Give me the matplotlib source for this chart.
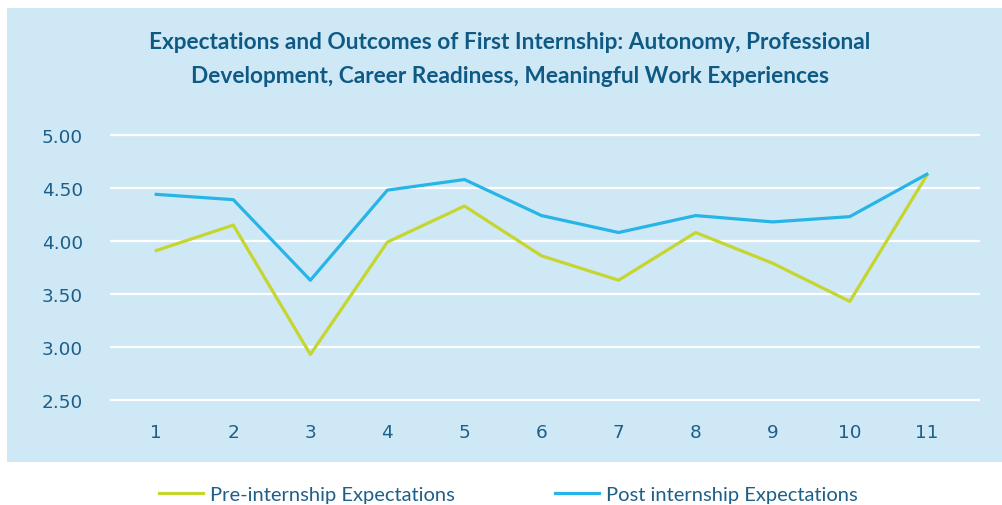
import matplotlib
matplotlib.use("Agg")
import matplotlib.pyplot as plt
from matplotlib.patches import Rectangle

categories = [1, 2, 3, 4, 5, 6, 7, 8, 9, 10, 11]
pre_internship = [3.91, 4.15, 2.93, 3.99, 4.33, 3.86, 3.63, 4.08, 3.79, 3.43, 4.62]
post_internship = [4.44, 4.39, 3.63, 4.48, 4.58, 4.24, 4.08, 4.24, 4.18, 4.23, 4.63]
y_ticks = [2.5, 3.0, 3.5, 4.0, 4.5, 5.0]
series_names = ["Pre-internship Expectations", "Post internship Expectations"]
title = ("Expectations and Outcomes of First Internship: Autonomy, Professional\n"
         "Development, Career Readiness, Meaningful Work Experiences")

plt.rcParams['font.family'] = ['Lato', 'DejaVu Sans']

BG = "#cfe8f6"
TXT = "#1d5f88"
TITLE = "#0f5a85"
GREEN = "#c5d62e"
BLUE = "#27b4e7"

W, H = 1003, 506
fig = plt.figure(figsize=(W / 100, H / 100), dpi=100)
fig.patch.set_facecolor("white")
fig.add_artist(Rectangle((7 / W, (H - 463) / H), 1 - 7 / W, (463 - 9) / H,
                         transform=fig.transFigure, facecolor=BG, edgecolor="none", zorder=0))

ax = fig.add_axes([110 / W, (H - 406.3) / H, 870 / W, 275.6 / H])
ax.set_facecolor("none")
ax.plot(categories, pre_internship, color=GREEN, lw=2.3, label=series_names[0])
ax.plot(categories, post_internship, color=BLUE, lw=2.3, label=series_names[1])

ax.set_ylim(2.45, 5.05)
ax.set_xlim(0.4, 11.69)
ax.set_yticks(y_ticks)
ax.set_yticklabels([f"{v:.2f}" for v in y_ticks], family="DejaVu Sans")
ax.set_xticks(categories)
ax.set_xticklabels([str(c) for c in categories], family="DejaVu Sans")
ax.yaxis.grid(True, color="white", lw=1.6)
ax.set_axisbelow(True)
for s in ax.spines.values():
    s.set_visible(False)
ax.tick_params(axis="both", length=0, colors=TXT, labelsize=13.3)
ax.tick_params(axis="y", pad=19.5)
ax.tick_params(axis="x", pad=13)

fig.text(510 / W, 1 - 59.5 / H, title, ha="center", va="center", fontsize=16.3,
         fontweight="bold", color=TITLE, linespacing=1.75)

leg = fig.legend(loc="center left", bbox_to_anchor=(141 / W, 1 - 495 / H), ncol=2,
                 frameon=False, fontsize=14.5, handlelength=2.2, handletextpad=0.35,
                 columnspacing=4.95, labelcolor=TXT)

fig.savefig("out.png", dpi=100, facecolor="white")
